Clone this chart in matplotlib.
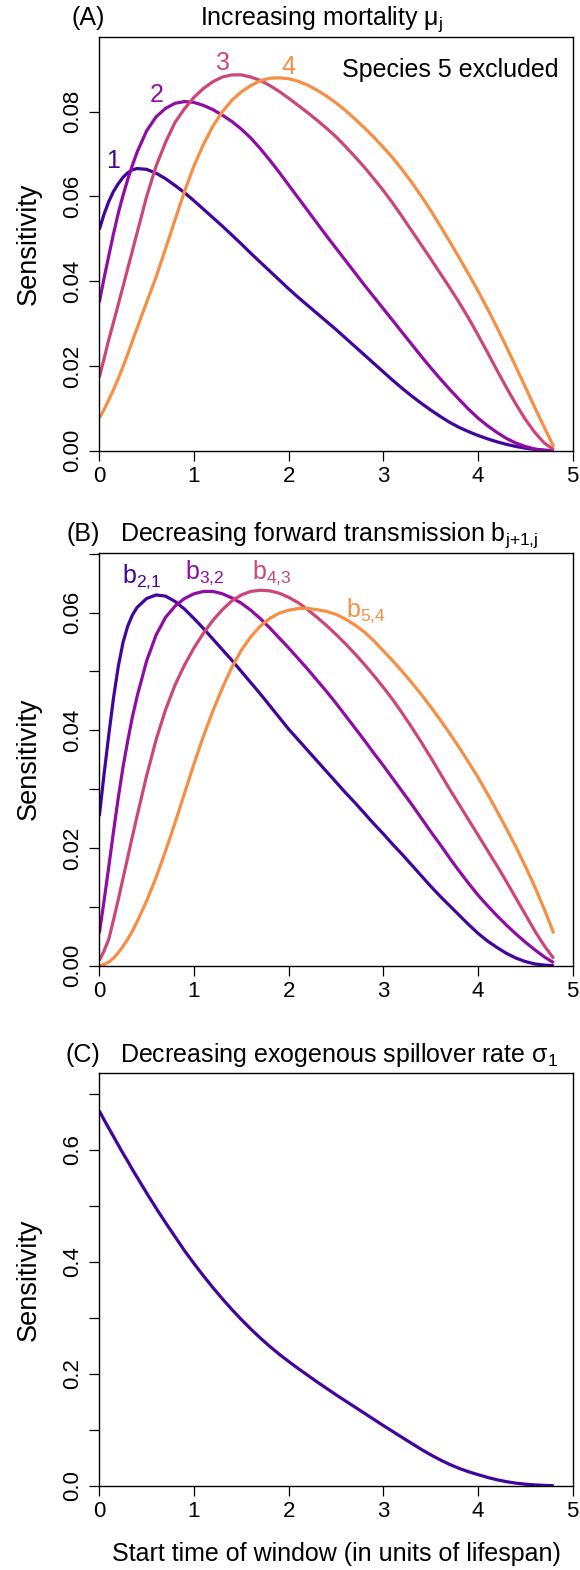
import numpy as np
import matplotlib
matplotlib.use('Agg')
import matplotlib.pyplot as plt
from matplotlib.ticker import MultipleLocator, FormatStrFormatter

plt.rcParams['font.family'] = ['Liberation Sans', 'DejaVu Sans']
plt.rcParams['mathtext.fontset'] = 'custom'
plt.rcParams['mathtext.rm'] = 'Liberation Sans'
plt.rcParams['mathtext.it'] = 'Liberation Sans:italic'

# start time of window, shared by every curve
t = [0, 0.05, 0.1, 0.15, 0.2, 0.25, 0.3, 0.35, 0.4, 0.5, 0.6, 0.7, 0.8, 0.9,
     1.0, 1.1, 1.2, 1.3, 1.4, 1.5, 1.6, 1.7, 1.8, 1.9, 2.0, 2.1, 2.2, 2.3, 2.4,
     2.5, 2.6, 2.7, 2.8, 2.9, 3.0, 3.1, 3.2, 3.3, 3.4, 3.5, 3.6, 3.7, 3.8, 3.9,
     4.0, 4.1, 4.2, 4.3, 4.4, 4.5, 4.6, 4.7, 4.8]

# ---- panel A: increasing mortality, species 1-4 ----
a_sp1 = [.0522, .0558, .0588, .0612, .0630, .0645, .0656, .0663, .0666, .0664, .0655,
         .0642, .0626, .0609, .0590, .0570, .0550, .0530, .0509, .0488, .0466, .0445,
         .0424, .0403, .0382, .0362, .0343, .0324, .0305, .0286, .0266, .0246, .0226,
         .0206, .0186, .0166, .0147, .0129, .0112, .0096, .0081, .0067, .0055, .0045,
         .0036, .0028, .0021, .0015, .0010, .0006, .0003, .0001, .0000]
a_sp2 = [.0350, .0407, .0460, .0512, .0560, .0602, .0640, .0674, .0705, .0755, .0788,
         .0808, .0820, .0824, .0822, .0815, .0805, .0792, .0777, .0759, .0738, .0713,
         .0686, .0657, .0627, .0597, .0567, .0537, .0507, .0478, .0449, .0420, .0391,
         .0363, .0335, .0307, .0279, .0251, .0223, .0196, .0170, .0145, .0121, .0098,
         .0077, .0059, .0043, .0029, .0018, .0010, .0004, .0001, .0000]
a_sp3 = [.0173, .0217, .0262, .0303, .0345, .0387, .0430, .0472, .0515, .0600, .0672,
         .0728, .0775, .0807, .0834, .0855, .0871, .0882, .0887, .0887, .0882, .0874,
         .0862, .0848, .0832, .0815, .0798, .0780, .0761, .0741, .0718, .0694, .0669,
         .0642, .0614, .0584, .0552, .0519, .0486, .0453, .0419, .0385, .0350, .0313,
         .0273, .0232, .0190, .0149, .0110, .0074, .0043, .0018, .0003]
a_sp4 = [.0077, .0097, .0120, .0144, .0170, .0198, .0228, .0259, .0290, .0350, .0410,
         .0477, .0545, .0612, .0672, .0723, .0766, .0800, .0827, .0847, .0862, .0873,
         .0879, .0880, .0878, .0872, .0863, .0851, .0837, .0821, .0803, .0783, .0762,
         .0740, .0716, .0691, .0663, .0633, .0601, .0567, .0531, .0494, .0456, .0417,
         .0377, .0335, .0291, .0245, .0198, .0150, .0102, .0055, .0009]
a_labels = ['1', '2', '3', '4']

# ---- panel B: decreasing forward transmission ----
b_21 = [.0254, .0325, .0392, .0455, .0508, .0549, .0577, .0596, .0609, .0624, .0630,
        .0628, .0619, .0606, .0590, .0573, .0555, .0537, .0519, .0500, .0481, .0462,
        .0442, .0422, .0402, .0384, .0366, .0348, .0330, .0312, .0294, .0277, .0259,
        .0241, .0224, .0206, .0189, .0171, .0153, .0135, .0118, .0102, .0086, .0070,
        .0055, .0042, .0031, .0021, .0013, .0007, .0003, .0001, .0000]
b_32 = [.0055, .0110, .0168, .0228, .0285, .0337, .0382, .0423, .0458, .0518, .0562,
        .0592, .0611, .0624, .0632, .0636, .0636, .0632, .0625, .0616, .0604, .0590,
        .0574, .0557, .0540, .0522, .0504, .0485, .0466, .0446, .0425, .0404, .0383,
        .0361, .0340, .0318, .0296, .0274, .0251, .0228, .0206, .0183, .0161, .0140,
        .0120, .0102, .0085, .0069, .0054, .0040, .0027, .0015, .0005]
b_43 = [.0009, .0025, .0045, .0078, .0112, .0148, .0184, .0220, .0255, .0323, .0384,
        .0435, .0477, .0511, .0540, .0565, .0587, .0605, .0620, .0630, .0636, .0638,
        .0637, .0633, .0626, .0617, .0605, .0592, .0578, .0563, .0547, .0530, .0512,
        .0493, .0473, .0452, .0429, .0405, .0380, .0354, .0327, .0300, .0274, .0248,
        .0222, .0196, .0170, .0143, .0115, .0087, .0059, .0034, .0012]
b_54 = [.0000, .0002, .0006, .0013, .0022, .0033, .0045, .0059, .0075, .0110, .0150,
        .0195, .0243, .0293, .0343, .0390, .0433, .0472, .0507, .0536, .0559, .0577,
        .0590, .0599, .0604, .0607, .0607, .0605, .0602, .0597, .0589, .0579, .0567,
        .0552, .0535, .0518, .0500, .0481, .0461, .0440, .0418, .0395, .0371, .0346,
        .0320, .0292, .0263, .0233, .0202, .0169, .0134, .0096, .0055]
b_labels = [r'b$\mathregular{_{2{,}1}}$', r'b$\mathregular{_{3{,}2}}$',
            r'b$\mathregular{_{4{,}3}}$', r'b$\mathregular{_{5{,}4}}$']

# ---- panel C: exogenous spillover ----
c_sigma = [.670, .654, .639, .624, .609, .594, .580, .565, .551, .523, .496, .470, .445,
           .420, .397, .375, .354, .334, .315, .297, .280, .264, .249, .235, .222, .2095,
           .1975, .1855, .174, .1625, .1515, .1405, .1295, .1185, .1075, .0968, .0861,
           .0755, .0650, .0552, .0462, .0381, .0310, .0249, .0198, .0148, .0106, .0072,
           .0046, .0027, .0014, .0006, .0]

colors = ['#41049D', '#8F0DA4', '#CC4778', '#F68F44']
lw = 2.3

W, H = 580.0, 1570.0
fig = plt.figure(figsize=(W / 100, H / 100), dpi=100)


def make_axes(top_px, bottom_px):
    return fig.add_axes([99.3 / W, 1 - bottom_px / H, (572.7 - 99.3) / W, (bottom_px - top_px) / H])


def style(ax, ymax, major, minor, fmt):
    ax.set_xlim(0, 5)
    ax.set_ylim(0, ymax)
    ax.xaxis.set_major_locator(MultipleLocator(1))
    ax.yaxis.set_major_locator(MultipleLocator(major))
    if minor:
        ax.yaxis.set_minor_locator(MultipleLocator(minor))
    ax.yaxis.set_major_formatter(FormatStrFormatter(fmt))
    ax.tick_params(which='both', direction='out', length=7.2, width=0.9, labelsize=16)
    ax.tick_params(axis='x', pad=3.5)
    ax.tick_params(axis='y', pad=4.5)
    for lab in ax.get_yticklabels():
        lab.set_rotation(90)
        lab.set_va('center')
    for s in ax.spines.values():
        s.set_linewidth(1.0)


def ylabel(top_px, bottom_px):
    fig.text(29 / W, 1 - (top_px + bottom_px) / 2 / H, 'Sensitivity', rotation=90,
             ha='center', va='center', fontsize=19.5)


def title(tag, tag_px, text, text_px, base_px):
    fig.text(tag_px / W, 1 - base_px / H, tag, ha='left', va='baseline', fontsize=18)
    fig.text(text_px / W, 1 - base_px / H, text, ha='left', va='baseline', fontsize=18)


# panel A
axA = make_axes(37.3, 450.7)
for ys, c in zip([a_sp1, a_sp2, a_sp3, a_sp4], colors):
    axA.plot(t, ys, color=c, lw=lw, solid_capstyle='butt', solid_joinstyle='round')
style(axA, 1.1 * max(max(a_sp1), max(a_sp2), max(a_sp3), max(a_sp4)), 0.02, None, '%.2f')
for lab, c, (lx, ly) in zip(a_labels, colors, [(0.148, 0.0668), (0.601, 0.0822),
                                               (1.306, 0.0898), (2.0, 0.0890)]):
    axA.text(lx, ly, lab, color=c, ha='center', va='baseline', fontsize=18)
axA.text(4.855, 0.0881, 'Species 5 excluded', ha='right', va='baseline', fontsize=18)
ylabel(37.3, 450.7)
title('(A)', 71.5, r'Increasing mortality $\mathregular{μ_j}$', 200, 25)

# panel B
axB = make_axes(552.7, 965.7)
for ys, c in zip([b_21, b_32, b_43, b_54], colors):
    axB.plot(t, ys, color=c, lw=lw, solid_capstyle='butt', solid_joinstyle='round')
style(axB, 1.1 * max(max(b_21), max(b_32), max(b_43), max(b_54)), 0.02, 0.01, '%.2f')
for lab, c, (lx, ly) in zip(b_labels, colors, [(0.24, 0.0650), (0.905, 0.0657),
                                               (1.61, 0.0658), (2.605, 0.0593)]):
    axB.text(lx, ly, lab, color=c, ha='left', va='baseline', fontsize=18)
ylabel(552.7, 965.7)
title('(B)', 66.7, r'Decreasing forward transmission b$\mathregular{_{j{+}1{,}j}}$', 120.4, 540.7)

# panel C
axC = make_axes(1073.3, 1485.7)
axC.plot(t, c_sigma, color=colors[0], lw=lw, solid_capstyle='butt', solid_joinstyle='round')
style(axC, 1.1 * max(c_sigma), 0.2, 0.1, '%.1f')
ylabel(1073.3, 1485.7)
title('(C)', 65.9, r'Decreasing exogenous spillover rate $\mathregular{σ_1}$', 120.4, 1062)

fig.text(336 / W, 1 - 1561 / H, 'Start time of window (in units of lifespan)',
         ha='center', va='baseline', fontsize=18)

fig.savefig('out.png', dpi=100)
